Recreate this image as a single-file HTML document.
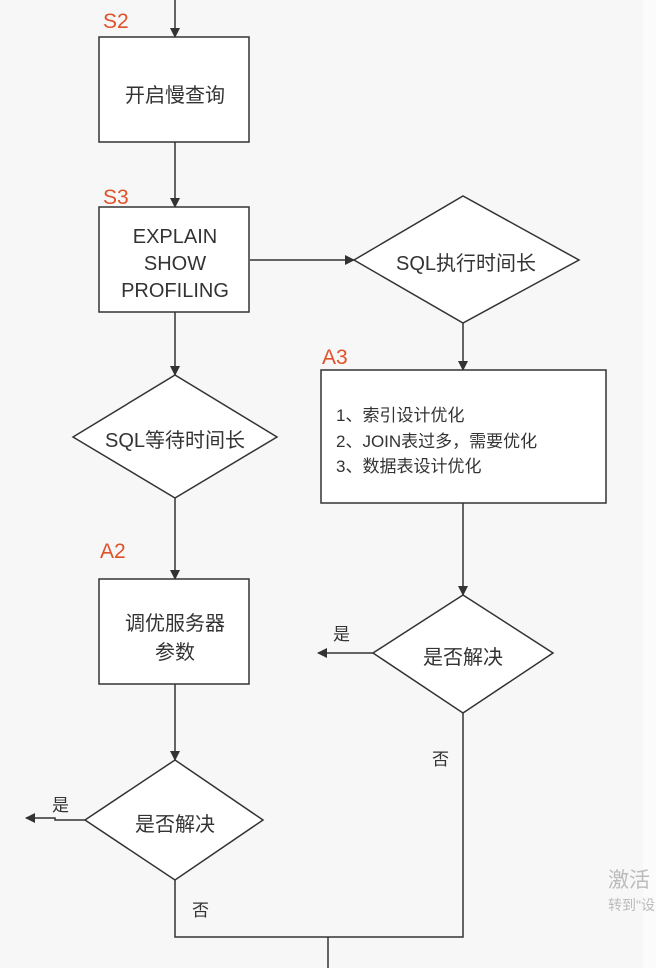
<!DOCTYPE html>
<html><head><meta charset="utf-8"><style>
html,body{margin:0;padding:0;background:#f7f7f7;}
svg{display:block;font-family:"Liberation Sans","Noto Sans CJK SC",sans-serif;}
</style></head><body>
<svg width="656" height="968" viewBox="0 0 656 968" xmlns="http://www.w3.org/2000/svg">
<defs><marker id="a" markerWidth="10" markerHeight="10" refX="9" refY="5" orient="auto" markerUnits="userSpaceOnUse"><path d="M0,0 L10,5 L0,10 Z" fill="#333"/></marker></defs>
<rect x="0" y="0" width="656" height="968" fill="#f7f7f7"/>
<rect x="643" y="0" width="13" height="968" fill="#fbfbfb"/>
<g stroke="#333" stroke-width="1.5" fill="none">
<line x1="175" y1="0" x2="175" y2="37" marker-end="url(#a)"/>
<line x1="175" y1="142" x2="175" y2="207" marker-end="url(#a)"/>
<line x1="250" y1="260" x2="354" y2="260" marker-end="url(#a)"/>
<line x1="463" y1="323" x2="463" y2="370" marker-end="url(#a)"/>
<line x1="463" y1="503" x2="463" y2="595" marker-end="url(#a)"/>
<line x1="373" y1="653" x2="318" y2="653" marker-end="url(#a)"/>
<polyline points="463,713 463,937 175,937 175,880"/>
<line x1="328" y1="937" x2="328" y2="968"/>
<line x1="175" y1="312" x2="175" y2="375" marker-end="url(#a)"/>
<line x1="175" y1="498" x2="175" y2="579" marker-end="url(#a)"/>
<line x1="175" y1="684" x2="175" y2="760" marker-end="url(#a)"/>
<polyline points="85,820 55,820 55,818 26,818" marker-end="url(#a)"/>
</g>
<g stroke="#333" stroke-width="1.5" fill="#fff">
<rect x="99" y="37" width="150" height="105"/>
<rect x="99" y="207" width="150" height="105"/>
<polygon points="354,260 463,196 579,260 463,323"/>
<rect x="321" y="370" width="285" height="133"/>
<polygon points="373,653 463,595 553,653 463,713"/>
<polygon points="73,437 175,375 277,437 175,498"/>
<rect x="99" y="579" width="150" height="105"/>
<polygon points="85,820 175,760 263,820 175,880"/>
</g>
<g fill="#e0522a" font-size="21">
<text x="103" y="28">S2</text>
<text x="103" y="204">S3</text>
<text x="322" y="364">A3</text>
<text x="100" y="558">A2</text>
</g>
<g fill="#333" font-size="20" text-anchor="middle">
<text x="175" y="102">开启慢查询</text>
<text x="175" y="243">EXPLAIN</text>
<text x="175" y="270">SHOW</text>
<text x="175" y="297">PROFILING</text>
<text x="466" y="270">SQL执行时间长</text>
<text x="175" y="447">SQL等待时间长</text>
<text x="175" y="630">调优服务器</text>
<text x="175" y="659">参数</text>
<text x="463" y="664">是否解决</text>
<text x="175" y="831">是否解决</text>
</g>
<g fill="#333" font-size="17">
<text x="336" y="421">1、索引设计优化</text>
<text x="336" y="447">2、JOIN表过多，需要优化</text>
<text x="336" y="472">3、数据表设计优化</text>
<text x="333" y="640">是</text>
<text x="432" y="765">否</text>
<text x="52" y="811">是</text>
<text x="192" y="916">否</text>
</g>
<text x="608" y="887" fill="#bbb" font-size="21">激活</text>
<text x="608" y="910" fill="#bbb" font-size="14">转到"设</text>
</svg>
</body></html>
